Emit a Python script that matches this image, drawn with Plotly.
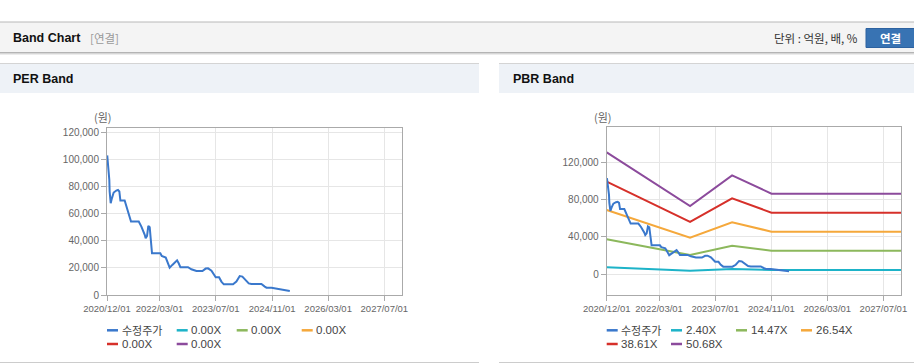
import plotly.graph_objects as go

W, H = 914, 364

# ---------------- data ----------------
price_dates = [
    "2020-12-03", "2020-12-15", "2020-12-21", "2020-12-24", "2021-01-02", "2021-01-13",
    "2021-01-28", "2021-02-20", "2021-03-06", "2021-03-18", "2021-03-27", "2021-05-03",
    "2021-05-18", "2021-06-01", "2021-06-27", "2021-09-02", "2021-09-25", "2021-10-24",
    "2021-11-01", "2021-11-13", "2021-11-24", "2021-12-06", "2021-12-15", "2021-12-26",
    "2022-03-08", "2022-03-20", "2022-04-24", "2022-05-11", "2022-05-28", "2022-06-20",
    "2022-07-11", "2022-07-31", "2022-08-14", "2022-08-29", "2022-11-03", "2022-12-02",
    "2023-01-15", "2023-03-08", "2023-04-05", "2023-04-26", "2023-05-25", "2023-06-08",
    "2023-07-01", "2023-07-30", "2023-08-19", "2023-09-09", "2023-11-28", "2023-12-27",
    "2024-01-25", "2024-02-17", "2024-03-23", "2024-04-12", "2024-05-05", "2024-07-31",
    "2024-08-29", "2024-09-13", "2024-10-26", "2024-11-24", "2024-12-23", "2025-01-21",
    "2025-02-18", "2025-04-03",
]
price_values = [
    103000, 93600, 85000, 76400, 67800, 71500,
    75600, 77100, 77600, 76400, 69700, 69700,
    65300, 60400, 54200, 54200, 50500, 44400,
    41900, 43600, 51000, 50000, 41900, 30800,
    30800, 28800, 27600, 23400, 20200, 22200,
    23900, 25600, 23400, 20500, 20500, 19000,
    17700, 17700, 19500, 19700, 18000, 16000,
    13100, 13100, 9900, 7900, 7900, 9900,
    14000, 13600, 9900, 8600, 8100, 8100,
    6200, 5400, 5400, 4900, 4200, 3700,
    3200, 3000,
]

band_dates = ["2020-12-01", "2022-11-25", "2023-11-25", "2024-11-01", "2027-12-01"]
pbr_band_240 = [7200, 3600, 5400, 4300, 4300]
pbr_band_1447 = [37300, 20400, 30400, 25100, 25100]
pbr_band_2654 = [68800, 39000, 55500, 45500, 45500]
pbr_band_3861 = [99200, 55900, 81300, 65900, 65900]
pbr_band_5068 = [130700, 73000, 106000, 86300, 86300]

price_name = "수정주가"
per_band_names = ["0.00X", "0.00X", "0.00X", "0.00X", "0.00X"]
pbr_band_names = ["2.40X", "14.47X", "26.54X", "38.61X", "50.68X"]

x_tick_vals = ["2020-12-01", "2022-03-01", "2023-07-01", "2024-11-01", "2026-03-01", "2027-07-01"]
x_tick_text = ["2020/12/01", "2022/03/01", "2023/07/01", "2024/11/01", "2026/03/01", "2027/07/01"]
x_range = ["2020-12-01", "2027-12-01"]
per_y_ticks = [0, 20000, 40000, 60000, 80000, 100000, 120000]
pbr_y_ticks = [0, 40000, 80000, 120000]

# ---------------- styles ----------------
price_color = "#3a78cc"
band_colors = ["#1db3c8", "#8cb85c", "#f5a83b", "#d6302a", "#8c4b9c"]
SANS = "Liberation Sans, Arial, sans-serif"
KR = "Noto Sans CJK KR, Liberation Sans, sans-serif"


def X(px):
    return px / W


def Y(py):
    return 1 - py / H


fig = go.Figure()

# PER chart: price only
fig.add_trace(go.Scatter(x=price_dates, y=price_values, mode="lines", name=price_name,
                         line=dict(color=price_color, width=2), xaxis="x", yaxis="y",
                         showlegend=False))

# PBR chart: bands then price
pbr_bands = [pbr_band_240, pbr_band_1447, pbr_band_2654, pbr_band_3861, pbr_band_5068]
for vals, nm, col in zip(pbr_bands, pbr_band_names, band_colors):
    fig.add_trace(go.Scatter(x=band_dates, y=vals, mode="lines", name=nm,
                             line=dict(color=col, width=2), xaxis="x2", yaxis="y2",
                             showlegend=False))
fig.add_trace(go.Scatter(x=price_dates, y=price_values, mode="lines", name=price_name,
                         line=dict(color=price_color, width=2), xaxis="x2", yaxis="y2",
                         showlegend=False))

axis_common = dict(showline=True, linecolor="#aaaaaa", linewidth=1, mirror=True,
                   showgrid=True, gridcolor="#e6e6e6", gridwidth=1, zeroline=False,
                   ticks="outside", ticklen=5, tickcolor="#aaaaaa", automargin=False)
xfont = dict(family=SANS, size=9.5, color="#666666")
yfont = dict(family=SANS, size=10, color="#666666")

fig.update_layout(
    width=W, height=H, margin=dict(l=0, r=0, t=0, b=0, autoexpand=False),
    paper_bgcolor="white", plot_bgcolor="white", showlegend=False,
    xaxis=dict(domain=[X(107), X(402)], type="date", range=x_range, tickangle=0, tickfont=xfont,
               tickvals=x_tick_vals, ticktext=x_tick_text, anchor="y", **axis_common),
    yaxis=dict(domain=[Y(295), Y(128)], range=[0, 123250], tickvals=per_y_ticks, tickfont=yfont,
               tickformat=",d", anchor="x", **axis_common),
    xaxis2=dict(domain=[X(606.7), X(901)], type="date", range=x_range, tickangle=0, tickfont=xfont,
                tickvals=x_tick_vals, ticktext=x_tick_text, anchor="y2", **axis_common),
    yaxis2=dict(domain=[Y(295), Y(127)], range=[-22560, 157900], tickvals=pbr_y_ticks, tickfont=yfont,
                tickformat=",d", anchor="x2", **axis_common),
)

shapes = []
annotations = []

# top header band
shapes.append(dict(type="rect", xref="paper", yref="paper", x0=0, x1=1, y0=Y(52.5), y1=Y(22),
                   fillcolor="#f4f4f4", line=dict(width=0), layer="below"))
shapes.append(dict(type="line", xref="paper", yref="paper", x0=0, x1=1, y0=Y(22), y1=Y(22),
                   line=dict(color="#b8b8b8", width=1)))
for off, c in [(52.5, "#b4b4b4"), (53.5, "#d6d6d6"), (54.5, "#ececec")]:
    shapes.append(dict(type="line", xref="paper", yref="paper", x0=0, x1=1, y0=Y(off), y1=Y(off),
                       line=dict(color=c, width=1)))
annotations.append(dict(xref="paper", yref="paper", x=X(11), y=Y(38), xanchor="left", yanchor="middle",
                        text="<b>Band Chart</b>", showarrow=False,
                        font=dict(family=SANS, size=12.5, color="#111111")))
annotations.append(dict(xref="paper", yref="paper", x=X(88), y=Y(38), xanchor="left", yanchor="middle",
                        text="[연결]", showarrow=False, font=dict(family=KR, size=11.5, color="#999999")))
annotations.append(dict(xref="paper", yref="paper", x=X(860), y=Y(38), xanchor="right", yanchor="middle",
                        text="단위 : 억원, 배, %", showarrow=False, font=dict(family=KR, size=11.5, color="#333333")))
shapes.append(dict(type="rect", xref="paper", yref="paper", x0=X(866), x1=X(916), y0=Y(47.5), y1=Y(28.5),
                   fillcolor="#3873b3", line=dict(color="#2d62a0", width=1)))
annotations.append(dict(xref="paper", yref="paper", x=X(890), y=Y(38), xanchor="center", yanchor="middle",
                        text="<b>연결</b>", showarrow=False, font=dict(family=KR, size=11.5, color="white")))

# panel headers and borders
for (x0, x1, title, tx) in [(0, 479, "PER Band", 11), (499, 914, "PBR Band", 511)]:
    shapes.append(dict(type="rect", xref="paper", yref="paper", x0=X(x0), x1=X(x1), y0=Y(93), y1=Y(64),
                       fillcolor="#eef2f7", line=dict(width=0), layer="below"))
    shapes.append(dict(type="line", xref="paper", yref="paper", x0=X(x0), x1=X(x1), y0=Y(63.5), y1=Y(63.5),
                       line=dict(color="#d4d4d4", width=1)))
    shapes.append(dict(type="line", xref="paper", yref="paper", x0=X(x0), x1=X(x1), y0=Y(362.5), y1=Y(362.5),
                       line=dict(color="#cccccc", width=1)))
    annotations.append(dict(xref="paper", yref="paper", x=X(tx), y=Y(79), xanchor="left", yanchor="middle",
                            text="<b>%s</b>" % title, showarrow=False,
                            font=dict(family=SANS, size=12.5, color="#111111")))

# y-axis unit titles
for cx in [103, 603]:
    annotations.append(dict(xref="paper", yref="paper", x=X(cx), y=Y(117), xanchor="center", yanchor="middle",
                            text="(원)", showarrow=False, font=dict(family=KR, size=11, color="#666666")))


# manual legends
def legend(x_cols, names, colors):
    rows = [330.3, 344]
    for i, (nm, col) in enumerate(zip(names, colors)):
        r = rows[i // 4]
        x0 = x_cols[i % 4]
        is_kr = any(ord(ch) > 0x3000 for ch in nm)
        shapes.append(dict(type="line", xref="paper", yref="paper", x0=X(x0), x1=X(x0 + 11),
                           y0=Y(r), y1=Y(r), line=dict(color=col, width=2.5)))
        annotations.append(dict(xref="paper", yref="paper", x=X(x0 + 13.5), y=Y(r), xanchor="left",
                                yanchor="middle", text=nm, showarrow=False, borderpad=0,
                                font=dict(family=KR if is_kr else SANS, size=11 if is_kr else 11.5,
                                          color="#444444")))


legend([107, 176.7, 236.7, 301.7], [price_name] + per_band_names, [price_color] + band_colors)
legend([606.7, 671, 736, 801], [price_name] + pbr_band_names, [price_color] + band_colors)

fig.update_layout(shapes=shapes, annotations=annotations)
fig.write_html("out.html", config={"displayModeBar": False},
               post_script="document.body.style.margin='0';document.body.style.overflow='hidden';")
